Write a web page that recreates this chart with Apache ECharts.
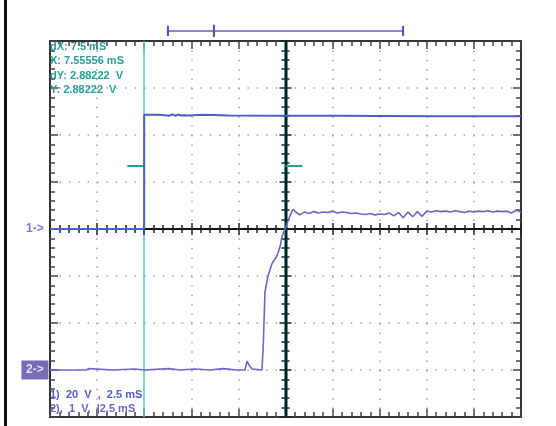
<!DOCTYPE html>
<html>
<head>
<meta charset="utf-8">
<script src="https://cdn.jsdelivr.net/npm/echarts@6/dist/echarts.min.js"></script>
<style>
html,body{margin:0;padding:0;background:#fff;}
#c{width:556px;height:426px;}
</style>
</head>
<body>
<div id="c"></div>
<script>
// ---- data (time in ms, ch1 in V at 20 V/div, ch2 in V at 1 V/div) ----
const ch1T = [-12.5, -7.5, -7.5, -6.8, -6.4, -6.3, -6.15, -6.0, -5.85, -5.7, -5.55, -5.4, -5.2, -4.3, -3.0, 0, 3.0, 5.0, 8.0, 12.5];
const ch1V = [0, 0, 48.6, 48.6, 48.4, 48.9, 48.2, 48.8, 48.2, 48.7, 48.3, 48.4, 48.3, 48.6, 48.3, 48.2, 48.2, 48.1, 48.0, 48.0];

const ch2T = [-12.5, -10.6, -10.4, -9.2, -8.0, -7.5, -6.2, -5.6, -4.8, -4.0, -3.3, -2.6, -2.15, -2.04, -1.93, -1.78, -1.25, -1.2, -1.18, -1.12, -1.09, -0.93, -0.72, -0.45, -0.29, -0.19, -0.03, 0.24, 0.40, 0.56,
  0.75, 1.0, 1.25, 1.5, 1.75, 2.0, 2.25, 2.5, 2.75, 3.0, 3.25, 3.5, 3.75, 4.0, 4.25, 4.5, 4.75, 5.0, 5.25, 5.5, 5.75, 6.0, 6.25, 6.5, 6.75, 7.0, 7.25, 7.5, 7.75, 8.0, 8.25, 8.5, 8.75, 9.0, 9.25, 9.5, 9.75, 10.0, 10.25, 10.5, 10.75, 11.0, 11.25, 11.5, 11.75, 12.0, 12.25, 12.5];
const ch2V = [0, 0, 0.03, 0, 0.02, 0, 0.03, 0, 0.02, 0, 0.03, 0, 0, 0.19, 0.1, 0.02, 0, 0, 0.51, 0.55, 1.66, 2.0, 2.26, 2.43, 2.62, 2.83, 3.0, 3.28, 3.42, 3.36,
  3.30, 3.36, 3.33, 3.37, 3.34, 3.36, 3.35, 3.38, 3.34, 3.36, 3.35, 3.33, 3.34, 3.32, 3.31, 3.33, 3.30, 3.32, 3.31, 3.34, 3.28, 3.35, 3.24, 3.36, 3.26, 3.37, 3.27, 3.38, 3.36, 3.39, 3.37, 3.38, 3.36, 3.39, 3.37, 3.35, 3.38, 3.36, 3.38, 3.37, 3.39, 3.36, 3.38, 3.37, 3.38, 3.34, 3.40, 3.36];

const cursorX = [-7.5, 0];          // ms
const cursorYLevel = 26.8;          // ch1 scale (V)
const cursorMarkLeft = [-8.4, -7.5];
const cursorMarkRight = [0, 0.9];
const bracketT = [-6.24, 6.24];
const bracketLevel = 84.3;          // above top of screen on ch1 scale
const bracketTick = -3.8;

const readouts = ['dX: 7.5 mS', 'X: 7.55556 mS', 'dY: 2.88222  V', 'Y: 2.88222  V'];
const scaleTexts = ['1)  20  V  ,  2.5 mS', '2),  1  V,  |2.5 mS'];
const chMarkers = ['1->', '2->'];

const xMin = -12.5, xMax = 12.5, xInt = 2.5;
const y1Min = -80, y1Max = 80, y1Int = 20;
const y2Min = -1, y2Max = 7, y2Int = 1;

const pair = (t, v) => t.map((x, i) => [x, v[i]]);

const dotted = {color: '#a0a0a0', width: 1.5, type: [1.5, 7.9]};
const edgeCommon = {
  axisLabel: {show: false},
  axisLine: {onZero: false, lineStyle: {color: '#333', width: 2}},
  axisTick: {show: true, inside: true, length: 8, lineStyle: {color: '#444', width: 1.5}},
  minorTick: {show: true, splitNumber: 5, length: 5, lineStyle: {color: '#444', width: 1.5}}
};
function centerAxis(inside, extra) {
  return Object.assign({
    axisLabel: {show: false},
    axisLine: {onZero: true, onZeroAxisIndex: 0, lineStyle: {color: '#111', width: 2}},
    axisTick: {show: true, inside: inside, length: 6, lineStyle: {color: '#222', width: 1.5}},
    minorTick: {show: true, splitNumber: 5, length: 4, lineStyle: {color: '#222', width: 1.5}},
    splitLine: {show: false},
    z: 10
  }, extra);
}

const chart = echarts.init(document.getElementById('c'), null, {renderer: 'canvas'});
const teal = '#2a9e9c';
const ch1Color = '#4d5ec8';
const ch2Color = '#7462c6';

chart.setOption({
  animation: false,
  backgroundColor: '#fff',
  grid: {left: 50, top: 41, width: 471, height: 376},
  xAxis: [
    Object.assign({type: 'value', min: xMin, max: xMax, interval: xInt, position: 'bottom',
      splitLine: {show: true, lineStyle: dotted}}, edgeCommon),
    Object.assign({type: 'value', min: xMin, max: xMax, interval: xInt, position: 'top',
      splitLine: {show: false}}, edgeCommon),
    centerAxis(true, {type: 'value', min: xMin, max: xMax, interval: xInt, position: 'bottom'}),
    centerAxis(false, {type: 'value', min: xMin, max: xMax, interval: xInt, position: 'bottom'})
  ],
  yAxis: [
    Object.assign({type: 'value', min: y1Min, max: y1Max, interval: y1Int, position: 'left',
      splitLine: {show: true, lineStyle: dotted}}, edgeCommon),
    Object.assign({type: 'value', min: y1Min, max: y1Max, interval: y1Int, position: 'right',
      splitLine: {show: false}}, edgeCommon),
    centerAxis(true, {type: 'value', min: y1Min, max: y1Max, interval: y1Int, position: 'left'}),
    centerAxis(false, {type: 'value', min: y1Min, max: y1Max, interval: y1Int, position: 'left'}),
    {type: 'value', min: y2Min, max: y2Max, interval: y2Int, show: false, axisLine: {onZero: false}}
  ],
  series: [
    {
      type: 'line', xAxisIndex: 0, yAxisIndex: 0, data: [], z: 1, silent: true,
      markLine: {
        silent: true, symbol: 'none', label: {show: false},
        data: [
          {xAxis: cursorX[0], lineStyle: {color: '#5cc9c5', width: 1.5, type: 'solid'}},
          {xAxis: cursorX[1], lineStyle: {color: '#3aaaa6', width: 4, type: 'solid'}}
        ]
      }
    },
    {
      type: 'line', xAxisIndex: 0, yAxisIndex: 0, data: pair(cursorMarkLeft, [cursorYLevel, cursorYLevel]),
      showSymbol: false, lineStyle: {color: teal, width: 2}, z: 11, silent: true
    },
    {
      type: 'line', xAxisIndex: 0, yAxisIndex: 0, data: pair(cursorMarkRight, [cursorYLevel, cursorYLevel]),
      showSymbol: false, lineStyle: {color: teal, width: 2}, z: 11, silent: true
    },
    {
      name: 'CH1', type: 'line', xAxisIndex: 0, yAxisIndex: 0, data: pair(ch1T, ch1V),
      showSymbol: false, lineStyle: {color: ch1Color, width: 2}, z: 12, silent: true
    },
    {
      name: 'CH2', type: 'line', xAxisIndex: 0, yAxisIndex: 4, data: pair(ch2T, ch2V),
      showSymbol: false, lineStyle: {color: ch2Color, width: 1.6}, z: 12, silent: true
    },
    // acquisition bracket above screen
    {
      type: 'line', xAxisIndex: 0, yAxisIndex: 0, clip: false, silent: true, showSymbol: false,
      data: pair(bracketT, [bracketLevel, bracketLevel]),
      lineStyle: {color: '#6a5cc0', width: 1.5}, z: 12
    },
    {
      type: 'line', xAxisIndex: 0, yAxisIndex: 0, clip: false, silent: true, showSymbol: false,
      data: [[bracketT[0], bracketLevel - 2.2], [bracketT[0], bracketLevel + 2.2]],
      lineStyle: {color: '#5a4cb0', width: 2}, z: 12
    },
    {
      type: 'line', xAxisIndex: 0, yAxisIndex: 0, clip: false, silent: true, showSymbol: false,
      data: [[bracketT[1], bracketLevel - 2.2], [bracketT[1], bracketLevel + 2.2]],
      lineStyle: {color: '#5a4cb0', width: 2}, z: 12
    },
    {
      type: 'line', xAxisIndex: 0, yAxisIndex: 0, clip: false, silent: true, showSymbol: false,
      data: [[bracketTick, bracketLevel - 2.6], [bracketTick, bracketLevel + 2.6]],
      lineStyle: {color: '#5a4cb0', width: 2}, z: 12
    },
    // channel ground markers
    {
      type: 'scatter', xAxisIndex: 0, yAxisIndex: 0, clip: false, silent: true,
      data: [[-13.3, 0]], symbol: 'rect', symbolSize: [1, 1],
      itemStyle: {color: 'rgba(0,0,0,0)'},
      label: {show: true, position: 'inside', formatter: chMarkers[0], color: ch1Color,
        fontFamily: 'Liberation Sans', fontWeight: 'bold', fontSize: 12}, z: 12
    },
    {
      type: 'scatter', xAxisIndex: 0, yAxisIndex: 4, clip: false, silent: true,
      data: [[-13.3, 0]], symbol: 'rect', symbolSize: [27, 19],
      itemStyle: {color: '#5447a6'},
      label: {show: true, position: 'inside', formatter: chMarkers[1], color: '#fff',
        fontFamily: 'Liberation Sans', fontWeight: 'bold', fontSize: 12}, z: 12
    }
  ],
  graphic: [
    {type: 'rect', left: 4, top: 0, shape: {width: 3, height: 426}, style: {fill: '#111'}},
    ...readouts.map((t, i) => ({
      type: 'text', left: 50, top: 41 + i * 14.5,
      style: {text: t, fill: teal, font: 'bold 11px "Liberation Sans"'}, z: 20
    })),
    {type: 'text', left: 50, top: 389, style: {text: scaleTexts[0], fill: ch1Color, font: 'bold 11px "Liberation Sans"'}, z: 20},
    {type: 'text', left: 50, top: 403, style: {text: scaleTexts[1], fill: ch2Color, font: 'bold 11px "Liberation Sans"'}, z: 20}
  ]
});
</script>
</body>
</html>
